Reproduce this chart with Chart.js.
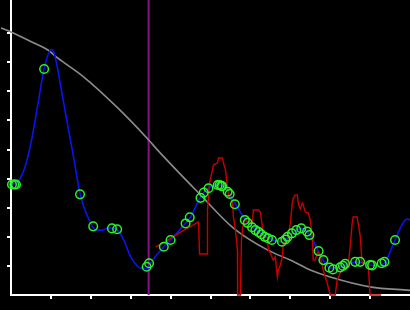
<!DOCTYPE html>
<html>
<head>
<meta charset="utf-8">
<script src="https://cdn.jsdelivr.net/npm/chart.js@4/dist/chart.umd.min.js"></script>
<style>
html,body{margin:0;padding:0;background:#000;}
canvas{display:block;}
</style>
</head>
<body>
<canvas id="c" width="410" height="310"></canvas>
<script>
// ---- data ----
const xTicks = [1,2,3,4,5,6,7,8,9];
const yTicks = [1,2,3,4,5,6,7,8,9];
const xMin = 0, xMax = 10, yMin = 0, yMax = 10.14;

const grayX = [-0.25, 0, 0.575, 0.925, 1.175, 1.825, 2.675, 3.45, 3.675, 4.75, 5.575, 6.425, 7.0, 7.5, 8.0, 9.0, 10.0];
const grayY = [9.18, 9.04, 8.66, 8.42, 8.14, 7.49, 6.43, 5.33, 4.98, 3.44, 2.30, 1.55, 1.20, 0.86, 0.62, 0.28, 0.16];

const blueX = [0, 0.125, 0.325, 0.5, 0.675, 0.83, 1.01, 1.075, 1.25, 1.325, 1.55, 1.75, 1.925, 2.05, 2.175, 2.3, 2.425, 2.55, 2.675, 2.825, 3.0, 3.175, 3.25, 3.425, 3.5, 3.825, 4.0, 4.375, 4.5, 4.75, 4.95, 5.2, 5.3, 5.45, 5.625, 5.875, 6.05, 6.175, 6.3, 6.425, 6.55, 6.8, 6.925, 7.05, 7.3, 7.425, 7.5, 7.7, 7.825, 8.0, 8.25, 8.375, 8.625, 8.75, 9.0, 9.175, 9.375, 9.625, 9.825, 9.925, 10.0];
const blueY = [3.81, 3.85, 4.30, 5.22, 6.56, 7.78, 8.44, 8.35, 7.15, 6.56, 4.88, 3.37, 2.68, 2.34, 2.23, 2.23, 2.30, 2.30, 2.23, 1.89, 1.31, 0.98, 0.92, 0.92, 1.10, 1.65, 1.89, 2.47, 2.68, 3.37, 3.68, 3.78, 3.75, 3.54, 3.13, 2.58, 2.34, 2.20, 2.10, 1.99, 1.89, 1.82, 1.96, 2.13, 2.30, 2.16, 2.06, 1.51, 1.20, 0.93, 0.96, 1.03, 1.13, 1.13, 1.03, 1.00, 1.13, 1.89, 2.47, 2.61, 2.58];

const redX = [3.625, 3.825, 4.25, 4.7, 4.725, 4.925, 4.925, 4.975, 5.05, 5.075, 5.175, 5.2, 5.3, 5.325, 5.375, 5.425, 5.45, 5.55, 5.575, 5.625, 5.675, 5.68, 5.75, 5.775, 5.8, 5.825, 5.875, 5.925, 6.0, 6.05, 6.075, 6.2, 6.25, 6.3, 6.325, 6.425, 6.45, 6.5, 6.55, 6.575, 6.625, 6.675, 6.7, 6.75, 6.8, 6.825, 6.925, 6.95, 7.0, 7.05, 7.075, 7.125, 7.175, 7.2, 7.25, 7.3, 7.325, 7.375, 7.45, 7.5, 7.55, 7.575, 7.625, 7.675, 7.7, 7.75, 7.825, 7.925, 8.0, 8.125, 8.175, 8.25, 8.375, 8.45, 8.5, 8.55, 8.575, 8.675, 8.7, 8.75, 8.8, 8.95, 9.0, 9.275];
const redY = [1.65, 1.79, 2.16, 2.51, 1.41, 1.41, 2.92, 3.85, 4.30, 4.47, 4.54, 4.71, 4.71, 4.54, 4.30, 3.71, 3.44, 3.20, 2.68, 2.23, 1.55, 0, 0, 1.89, 2.23, 2.47, 2.58, 2.51, 2.51, 2.47, 2.92, 2.92, 2.85, 2.34, 1.99, 1.99, 1.55, 1.44, 1.27, 1.20, 1.31, 0.62, 0.86, 1.03, 1.31, 1.79, 1.79, 1.99, 2.47, 3.16, 3.33, 3.44, 3.44, 3.16, 2.96, 3.16, 3.09, 2.85, 2.82, 2.58, 1.99, 1.20, 1.20, 1.44, 1.48, 1.31, 0.86, 0.41, 0, 0, 0.52, 0.76, 0.96, 1.03, 1.65, 2.47, 2.68, 2.68, 2.47, 2.06, 1.10, 1.10, 0, 0];

const dotX = [0.025, 0.083, 0.125, 0.83, 1.73, 2.06, 2.53, 2.66, 3.4, 3.46, 3.83, 4.0, 4.375, 4.48, 4.75, 4.83, 4.95, 5.18, 5.23, 5.27, 5.29, 5.43, 5.48, 5.61, 5.86, 5.93, 6.04, 6.125, 6.21, 6.275, 6.36, 6.44, 6.54, 6.79, 6.875, 6.93, 7.04, 7.15, 7.275, 7.42, 7.48, 7.71, 7.83, 7.98, 8.07, 8.25, 8.32, 8.375, 8.625, 8.75, 9.0, 9.05, 9.29, 9.36, 9.625];
const dotY = [3.8, 3.8, 3.8, 7.77, 3.46, 2.36, 2.29, 2.26, 0.97, 1.09, 1.66, 1.89, 2.46, 2.67, 3.34, 3.52, 3.67, 3.78, 3.78, 3.75, 3.74, 3.55, 3.47, 3.12, 2.58, 2.48, 2.33, 2.23, 2.16, 2.09, 2.0, 1.95, 1.89, 1.83, 1.91, 2.0, 2.12, 2.23, 2.29, 2.18, 2.06, 1.51, 1.2, 0.94, 0.88, 0.95, 1.0, 1.07, 1.14, 1.14, 1.03, 1.02, 1.09, 1.14, 1.89];

const markerX = 3.45;

// ---- build ----
const pts = (xs, ys) => xs.map((x, i) => ({x: x, y: ys[i]}));

new Chart(document.getElementById('c'), {
  type: 'scatter',
  data: {
    datasets: [
      {
        data: pts(dotX, dotY), showLine: false, order: 0, clip: false,
        pointRadius: 4.3, pointBorderWidth: 1.5, pointBorderColor: '#2bf22b',
        pointBackgroundColor: 'rgba(0,0,0,0)', pointStyle: 'circle'
      },
      {
        data: pts(redX, redY), showLine: true, order: 1, clip: false,
        borderColor: '#c80000', borderWidth: 1.4, pointRadius: 0, tension: 0
      },
      {
        data: pts(blueX, blueY), showLine: true, order: 2, clip: false,
        borderColor: '#0a14f0', borderWidth: 1.6, pointRadius: 0,
        cubicInterpolationMode: 'monotone'
      },
      {
        data: pts(grayX, grayY), showLine: true, order: 3, clip: false,
        borderColor: '#8c8c8c', borderWidth: 1.6, pointRadius: 0,
        cubicInterpolationMode: 'monotone'
      },
      {
        data: pts([markerX, markerX], [yMin, yMax]), showLine: true, order: 4, clip: false,
        borderColor: '#8a108a', borderWidth: 2, pointRadius: 0
      }
    ]
  },
  options: {
    responsive: false,
    animation: false,
    events: [],
    layout: {padding: 0, autoPadding: false},
    plugins: {legend: {display: false}, tooltip: {enabled: false}},
    scales: {
      x: {
        type: 'linear', min: xMin, max: xMax,
        afterBuildTicks: s => { s.ticks = xTicks.map(v => ({value: v})); },
        afterFit: s => { s.height = 15; },
        ticks: {display: false},
        grid: {drawOnChartArea: false, drawTicks: true, tickLength: 4, color: '#ffffff', lineWidth: 2},
        border: {display: true, color: '#ffffff', width: 2}
      },
      y: {
        type: 'linear', min: yMin, max: yMax,
        afterBuildTicks: s => { s.ticks = yTicks.map(v => ({value: v})); },
        afterFit: s => { s.width = 11; },
        ticks: {display: false},
        grid: {drawOnChartArea: false, drawTicks: true, tickLength: 4, color: '#ffffff', lineWidth: 2},
        border: {display: true, color: '#ffffff', width: 2}
      }
    }
  }
});
</script>
</body>
</html>
